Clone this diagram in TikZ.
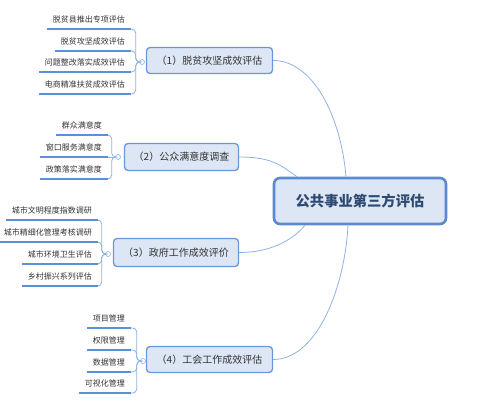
\documentclass[tikz,border=0pt]{standalone}
\usepackage{fontspec}
\newfontfamily\cjk{Noto Sans CJK SC}
\definecolor{boxfill}{HTML}{DCE6F5}
\definecolor{boxline}{HTML}{6A97D7}
\definecolor{mainline}{HTML}{5A8AD0}
\definecolor{mainText}{HTML}{2E4A70}
\definecolor{ulcol}{HTML}{5B8FD6}
\definecolor{brkcol}{HTML}{8FB2E3}
\definecolor{txt}{HTML}{333333}
\tikzset{
  centralbox/.style={draw=mainline, line width=2.6pt, fill=boxfill, rounded corners=6pt,
    minimum width=172pt, minimum height=46pt, inner sep=0pt,
    font=\cjk\fontsize{14.3}{16}\selectfont\bfseries, text=mainText},
  branchbox/.style={draw=boxline, line width=1.3pt, fill=boxfill, rounded corners=3.5pt,
    inner sep=0pt, font=\cjk\fontsize{10}{12}\selectfont, text=txt},
  leafnode/.style={inner xsep=6pt, inner ysep=5pt, text height=7pt, text depth=1pt,
    font=\cjk\fontsize{8}{10}\selectfont, text=txt, anchor=south east},
  uline/.style={draw=ulcol, line width=1.6pt},
  brk/.style={draw=brkcol, line width=0.8pt, rounded corners=4pt},
  mainconn/.style={draw=brkcol, line width=0.8pt},
  knob/.style={circle, draw=brkcol, fill=white, line width=0.6pt, minimum size=5pt, inner sep=0pt},
}
\begin{document}
\begin{tikzpicture}[x=1pt,y=-1pt]
\useasboundingbox (0,0) rectangle (481,403);
% central
\node[centralbox] (C) at (360,201) {公共事业第三方评估};
% branches
\node[branchbox, minimum width=126pt, minimum height=26pt] (B1) at (209.5,60.5) {（1）脱贫攻坚成效评估};
\node[branchbox, minimum width=114pt, minimum height=27pt] (B2) at (181.5,157) {（2）公众满意度调查};
\node[branchbox, minimum width=125pt, minimum height=28pt] (B3) at (176,252.5) {（3）政府工作成效评价};
\node[branchbox, minimum width=126pt, minimum height=26pt] (B4) at (209.5,359.5) {（4）工会工作成效评估};
% main connectors
\draw[mainconn] (B1.east) .. controls +(40,0) and +(-5,-60) .. ([xshift=-14pt]C.north);
\draw[mainconn] (B2.east) .. controls +(35,0) and +(-15,-10) .. ([xshift=-63pt]C.north);
\draw[mainconn] (B3.east) .. controls +(35,0) and +(-10,12) .. ([xshift=-55pt]C.south);
\draw[mainconn] (B4.east) .. controls +(45,0) and +(-3,60) .. ([xshift=-12pt]C.south);
% knobs
\node[knob] (K1) at (142,62) {};
\node[knob] (K2) at (118,157) {};
\node[knob] (K3) at (108,254) {};
\node[knob] (K4) at (143,361) {};
% leaves branch 1
\node[leafnode] (L1a) at (131,29) {脱贫县推出专项评估};
\node[leafnode] (L1b) at (131,51) {脱贫攻坚成效评估};
\node[leafnode] (L1c) at (131,72) {问题整改落实成效评估};
\node[leafnode] (L1d) at (131,94) {电商精准扶贫成效评估};
% leaves branch 2
\node[leafnode] (L2a) at (108,135) {群众满意度};
\node[leafnode] (L2b) at (108,157) {窗口服务满意度};
\node[leafnode] (L2c) at (108,179) {政策落实满意度};
% leaves branch 3
\node[leafnode] (L3a) at (98,220) {城市文明程度指数调研};
\node[leafnode] (L3b) at (98,242) {城市精细化管理考核调研};
\node[leafnode] (L3c) at (98,264) {城市环境卫生评估};
\node[leafnode] (L3d) at (98,286) {乡村振兴系列评估};
% leaves branch 4
\node[leafnode] (L4a) at (131,328) {项目管理};
\node[leafnode] (L4b) at (131,350) {权限管理};
\node[leafnode] (L4c) at (131,372) {数据管理};
\node[leafnode] (L4d) at (131,393) {可视化管理};
% brackets
\foreach \k/\l in {K1/L1a,K1/L1b,K1/L1c,K1/L1d,K3/L3a,K3/L3b,K3/L3c,K3/L3d,K4/L4a,K4/L4b,K4/L4c,K4/L4d,K2/L2a,K2/L2c}{
  \draw[brk] (\k.west) -- ++(-3.5,0) |- (\l.south east);
}
\draw[brk] (K2.west) -- (L2b.south east);
% underlines
\foreach \l in {L1a,L1b,L1c,L1d,L2a,L2b,L2c,L3a,L3b,L3c,L3d,L4a,L4b,L4c,L4d}{
  \draw[uline] (\l.south west) -- (\l.south east);
}
\end{tikzpicture}
\end{document}
